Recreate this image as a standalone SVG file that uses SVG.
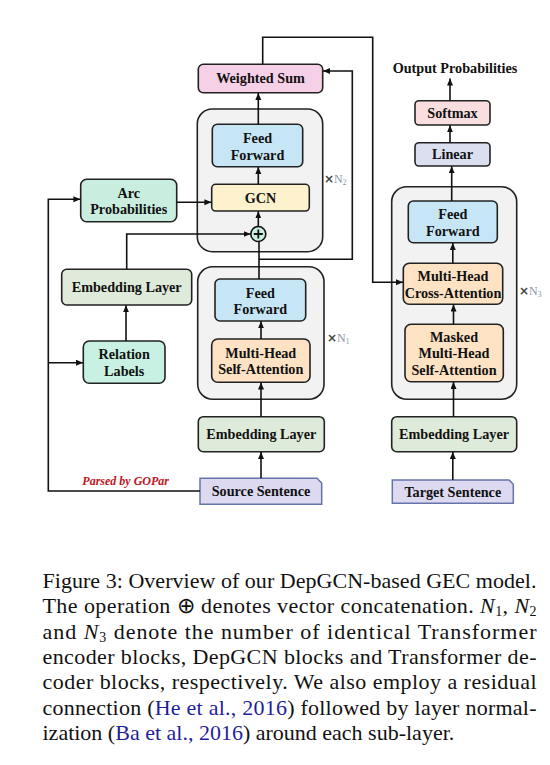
<svg xmlns="http://www.w3.org/2000/svg" width="550" height="765" viewBox="0 0 550 765">
<defs>
<marker id="ar" markerUnits="userSpaceOnUse" markerWidth="8" markerHeight="7" refX="7" refY="3" orient="auto">
<path d="M0,0 L7,3 L0,6 z" fill="#111"/>
</marker>
<style>
.box{stroke:#222;stroke-width:1.6}
.cont{fill:#f2f2f2;stroke:#222;stroke-width:1.6}
.t{font-family:"Liberation Serif","Times New Roman",serif;font-weight:bold;font-size:14.2px;fill:#111;text-anchor:middle}
.c{fill:none;stroke:#111;stroke-width:1.6}
.ca{fill:none;stroke:#111;stroke-width:1.6;marker-end:url(#ar)}
.n{font-family:"Liberation Serif","Times New Roman",serif;font-size:12px;fill:#8a93a6}
.x{font-family:"DejaVu Sans",sans-serif;font-weight:bold;font-size:12px;fill:#444}
.cap{font-family:"Liberation Serif","Times New Roman",serif;font-size:22px;fill:#111}
.cite{fill:#1f1f9a}
</style>
</defs>
<rect width="550" height="765" fill="#fff"/>

<g id="gcn-block">
<rect class="cont" x="197.3" y="109" width="125.4" height="142.7" rx="15"/>
<text class="n" x="324" y="183"><tspan class="x">×</tspan>N<tspan font-size="7.5" dy="2">2</tspan></text>
</g>
<g id="encoder-block">
<rect class="cont" x="197.7" y="266.7" width="126.3" height="132.6" rx="15"/>
<text class="n" x="327" y="341.5"><tspan class="x">×</tspan>N<tspan font-size="7.5" dy="2">1</tspan></text>
</g>
<g id="decoder-block">
<rect class="cont" x="391.7" y="186.7" width="125" height="212.6" rx="15"/>
<text class="n" x="519" y="295"><tspan class="x">×</tspan>N<tspan font-size="7.5" dy="2">3</tspan></text>
</g>

<g id="weighted-sum">
<rect class="box" x="198.3" y="64.3" width="124.4" height="28.4" rx="5" fill="#f6d0e6"/>
<text class="t" x="260.5" y="83.4">Weighted Sum</text>
</g>
<g id="ff2">
<rect class="box" x="212.3" y="124.3" width="90.4" height="42.4" rx="5" fill="#c6e6f6"/>
<text class="t" x="257.5" y="143">Feed</text>
<text class="t" x="257.5" y="159.5">Forward</text>
</g>
<g id="gcn">
<rect class="box" x="211.7" y="184.3" width="97.6" height="26.7" rx="4" fill="#fdf2cd"/>
<text class="t" x="260.5" y="202.6">GCN</text>
</g>
<g id="concat">
<circle cx="258.3" cy="234" r="7.5" fill="#c9efdf" stroke="#111" stroke-width="1.6"/>
<path d="M258.3,229.5 V238.5 M253.8,234 H262.8" stroke="#111" stroke-width="1.8"/>
</g>
<g id="arc-prob">
<rect class="box" x="80.7" y="179.3" width="96" height="42.4" rx="6" fill="#c9eedf"/>
<text class="t" x="128.7" y="197.5">Arc</text>
<text class="t" x="128.7" y="214">Probabilities</text>
</g>
<g id="emb-left">
<rect class="box" x="61.7" y="269.3" width="130" height="35.7" rx="5" fill="#deeada"/>
<text class="t" x="126.7" y="291.8">Embedding Layer</text>
</g>
<g id="relation">
<rect class="box" x="83.3" y="341" width="81.7" height="42.3" rx="6" fill="#c9f1e3"/>
<text class="t" x="124.2" y="359">Relation</text>
<text class="t" x="124.2" y="375.8">Labels</text>
</g>
<g id="ff1">
<rect class="box" x="215" y="279" width="90.7" height="42" rx="5" fill="#c6e6f6"/>
<text class="t" x="260.3" y="297.5">Feed</text>
<text class="t" x="260.3" y="314">Forward</text>
</g>
<g id="mhsa">
<rect class="box" x="211.7" y="339" width="98.3" height="43.3" rx="6" fill="#fde2c4"/>
<text class="t" x="260.8" y="357.5">Multi-Head</text>
<text class="t" x="260.8" y="374">Self-Attention</text>
</g>
<g id="emb-enc">
<rect class="box" x="198.3" y="416.7" width="126" height="35" rx="5" fill="#deeada"/>
<text class="t" x="261.3" y="439">Embedding Layer</text>
</g>
<g id="source">
<path d="M200,478.3 H317 L321.7,483 V504.3 H200 Z" fill="#dcd9f0" stroke="#6575ab" stroke-width="1.5"/>
<text class="t" x="261" y="496.3">Source Sentence</text>
<text x="125.7" y="485" font-family="Liberation Serif, serif" font-weight="bold" font-style="italic" font-size="12" fill="#c0141c" text-anchor="middle">Parsed by GOPar</text>
</g>

<g id="output-prob">
<text class="t" x="455" y="72.5">Output Probabilities</text>
</g>
<g id="softmax">
<rect class="box" x="415" y="100.7" width="75" height="24.3" rx="4" fill="#f8dede"/>
<text class="t" x="452.5" y="117.8">Softmax</text>
</g>
<g id="linear">
<rect class="box" x="415" y="142.7" width="75" height="23.3" rx="4" fill="#dcdff0"/>
<text class="t" x="452.5" y="159.3">Linear</text>
</g>
<g id="ff3">
<rect class="box" x="408.3" y="201" width="89" height="41.7" rx="5" fill="#c6e6f6"/>
<text class="t" x="452.8" y="219">Feed</text>
<text class="t" x="452.8" y="235.5">Forward</text>
</g>
<g id="cross">
<rect class="box" x="403.3" y="263.3" width="99.4" height="41" rx="6" fill="#fde2c4"/>
<text class="t" x="453" y="281">Multi-Head</text>
<text class="t" x="453" y="297.5">Cross-Attention</text>
</g>
<g id="masked">
<rect class="box" x="405" y="324.3" width="98.3" height="57.4" rx="6" fill="#fde2c4"/>
<text class="t" x="454" y="341.5">Masked</text>
<text class="t" x="454" y="358">Multi-Head</text>
<text class="t" x="454" y="374.5">Self-Attention</text>
</g>
<g id="emb-dec">
<rect class="box" x="391.7" y="416.7" width="125" height="35" rx="5" fill="#deeada"/>
<text class="t" x="454" y="439">Embedding Layer</text>
</g>
<g id="target">
<path d="M392.3,480 H509 L513.3,484.3 V503.3 H392.3 Z" fill="#dcd9f0" stroke="#6575ab" stroke-width="1.5"/>
<text class="t" x="452.8" y="496.8">Target Sentence</text>
</g>

<g id="connectors">
<path class="ca" d="M262.7,64.3 V37.3 H372.7 V282.3 H403"/>
<path class="c" d="M259,279 V241.5"/>
<path class="ca" d="M259,259.3 H352.3 V71 H323"/>
<path class="ca" d="M258.3,226.5 V211.3"/>
<path class="ca" d="M258.3,184.3 V167"/>
<path class="ca" d="M258.3,124.3 V93"/>
<path class="ca" d="M176.7,202.3 H211.4"/>
<path class="ca" d="M126.7,269.3 V234 H250.6"/>
<path class="ca" d="M126,341 V305.3"/>
<path class="ca" d="M200,491 H48.3 V199.3 H80.4"/>
<path class="ca" d="M48.3,362.7 H83"/>
<path class="ca" d="M261,339 V321.3"/>
<path class="ca" d="M261,416.7 V382.6"/>
<path class="ca" d="M261,478.3 V452"/>
<path class="ca" d="M452.8,480 V452"/>
<path class="ca" d="M453.5,416.7 V382"/>
<path class="ca" d="M453.5,324.3 V304.6"/>
<path class="ca" d="M452.8,263.3 V243"/>
<path class="ca" d="M451.7,201 V166.3"/>
<path class="ca" d="M450,142.7 V125.3"/>
<path class="ca" d="M450,100.7 V78.5"/>
</g>

<g id="caption">
<text class="cap" x="42.5" y="588" textLength="494" lengthAdjust="spacing">Figure 3: Overview of our DepGCN-based GEC model.</text>
<text class="cap" x="42.5" y="613.3" textLength="494" lengthAdjust="spacing">The operation ⊕ denotes vector concatenation. <tspan font-style="italic">N</tspan><tspan font-size="14" dy="3">1</tspan><tspan dy="-3">, </tspan><tspan font-style="italic">N</tspan><tspan font-size="14" dy="3">2</tspan></text>
<text class="cap" x="42.5" y="638.6" textLength="494" lengthAdjust="spacing">and <tspan font-style="italic">N</tspan><tspan font-size="14" dy="3">3</tspan><tspan dy="-3"> denote the number of identical Transformer</tspan></text>
<text class="cap" x="42.5" y="664" textLength="494" lengthAdjust="spacing">encoder blocks, DepGCN blocks and Transformer de-</text>
<text class="cap" x="42.5" y="689.3" textLength="494" lengthAdjust="spacing">coder blocks, respectively.  We also employ a residual</text>
<text class="cap" x="42.5" y="714.6" textLength="494" lengthAdjust="spacing">connection (<tspan class="cite">He et al., 2016</tspan>) followed by layer normal-</text>
<text class="cap" x="42.5" y="740">ization (<tspan class="cite">Ba et al., 2016</tspan>) around each sub-layer.</text>
</g>
</svg>
